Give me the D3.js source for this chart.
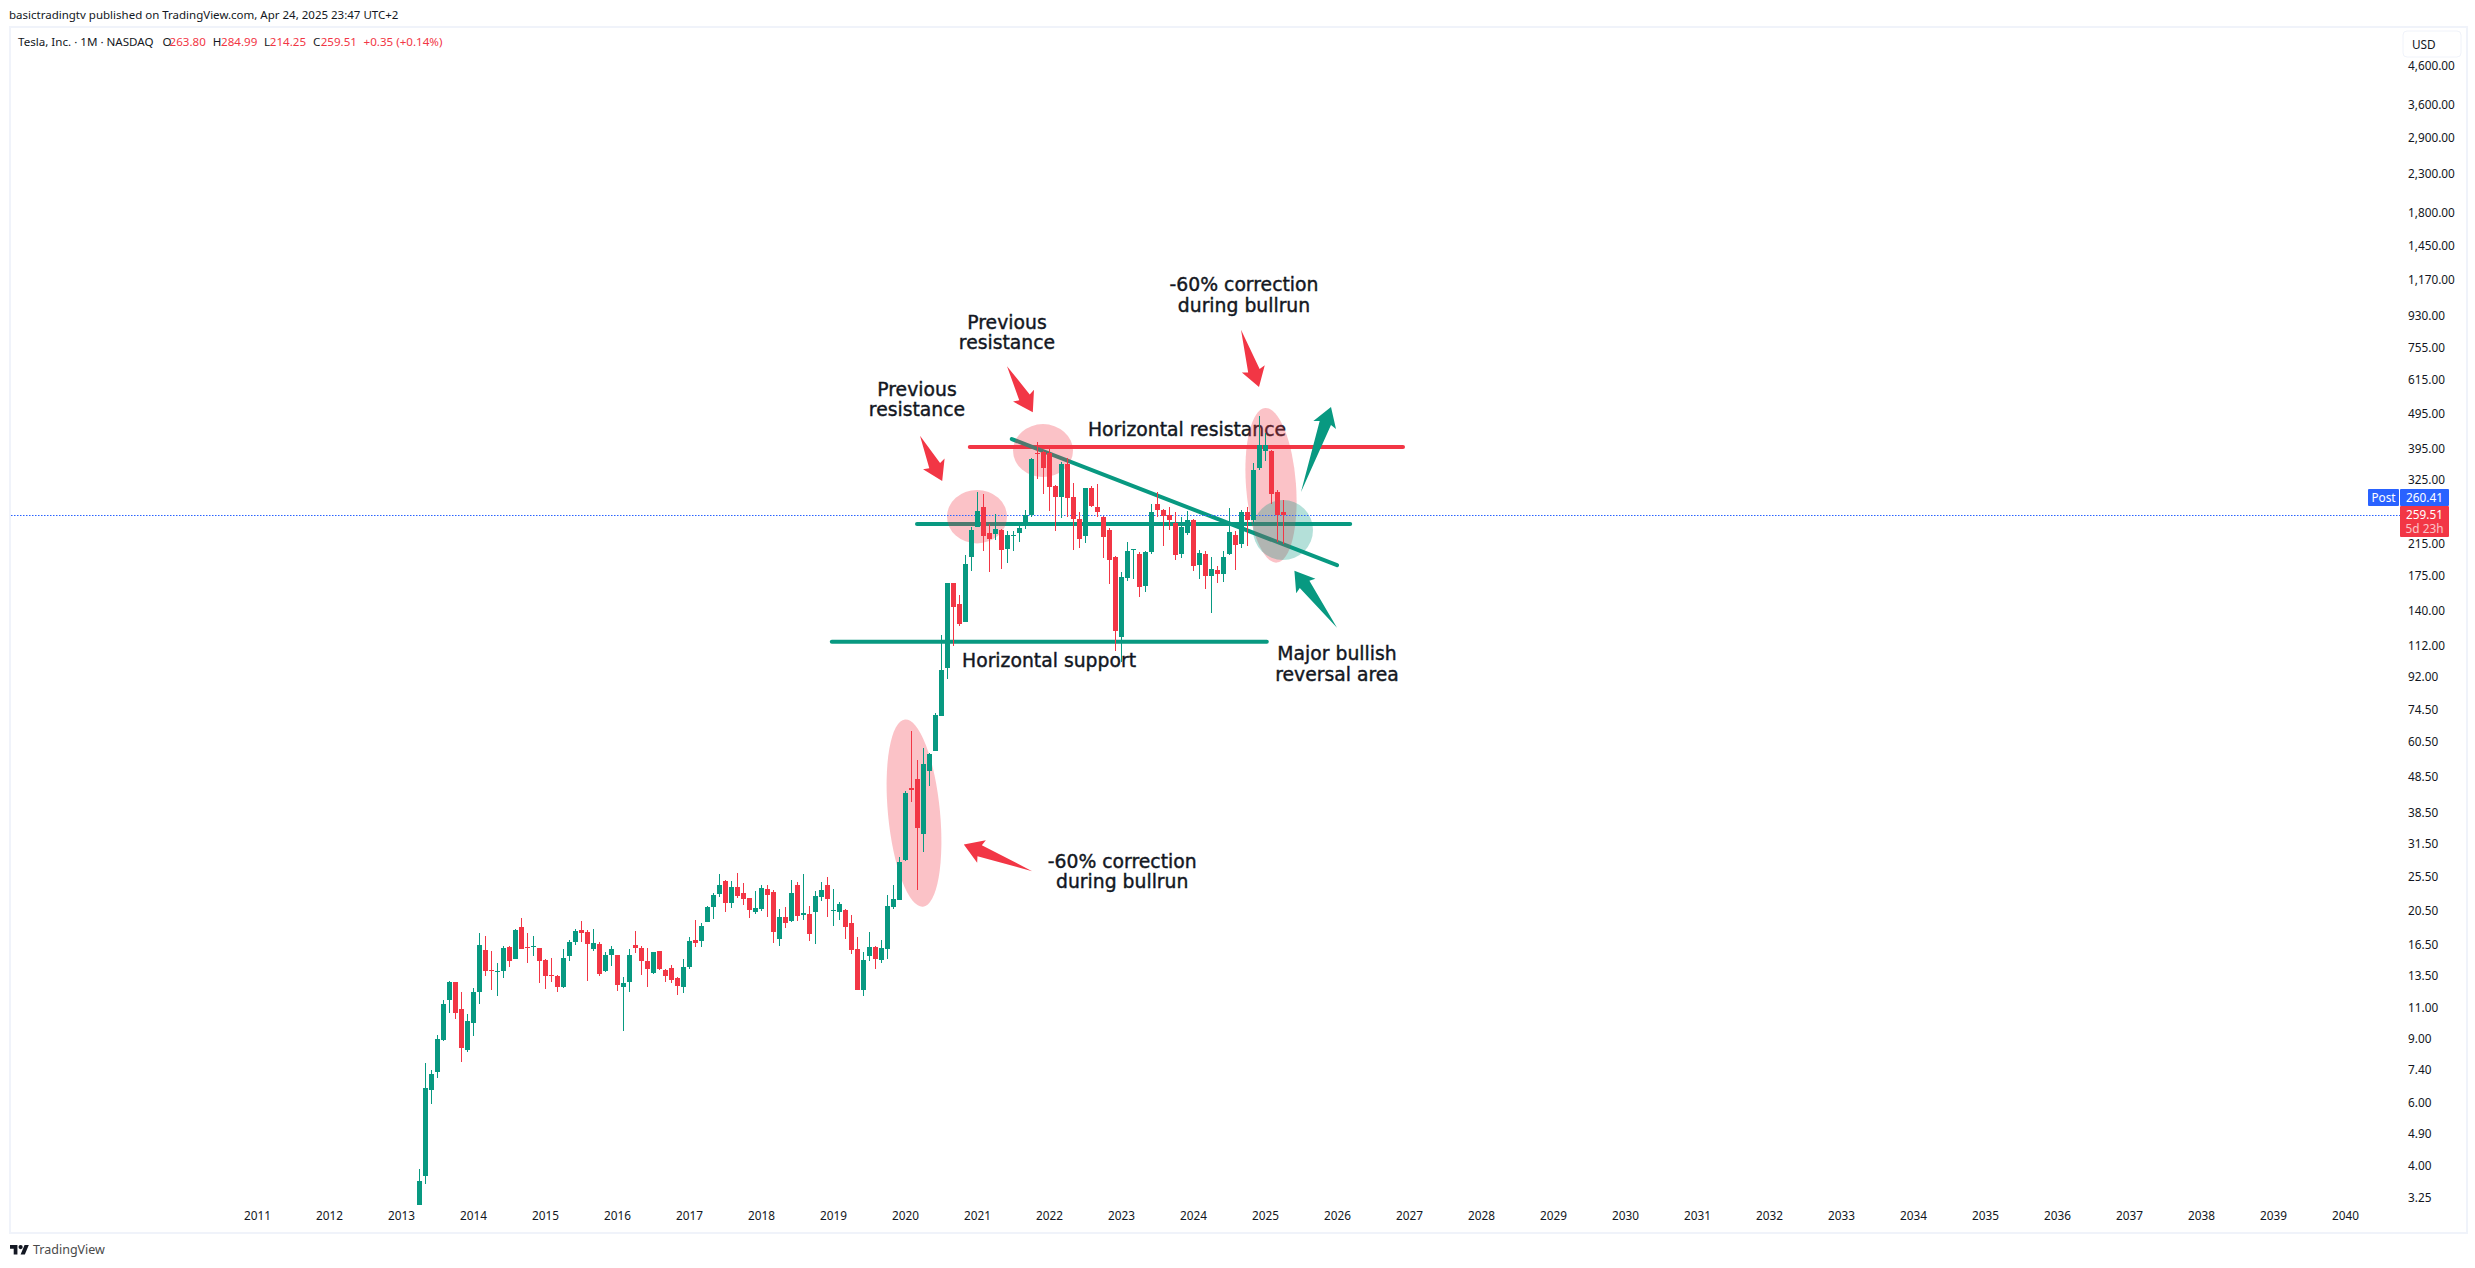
<!DOCTYPE html>
<html>
<head>
<meta charset="utf-8">
<script src="https://cdn.jsdelivr.net/npm/d3@7"></script>
<style>
  html, body { margin: 0; padding: 0; background: #fff; overflow: hidden; }
  text { font-family: "Noto Sans", sans-serif; fill: #131722; }
  .note { font-family: "DejaVu Sans", sans-serif; font-size: 18.8px; text-anchor: middle; dominant-baseline: middle; fill: #131722; stroke: #131722; stroke-width: 0.4px; }
</style>
</head>
<body>
<div id="chart"></div>
<script>
// monthly candles, first one is Apr 2013
const firstMonth = 3; // months after Jan 2013

const opens = [
  2.9, 3.74, 6.5, 7.29, 9.0, 11.56, 12.98, 10.9, 8.39,
  9.97, 12.17, 15.94, 14.02, 13.85, 13.85, 16.25, 15.05, 18.5, 16.25, 16.25, 16.1,
  14.95, 13.6, 13.5, 12.57, 15.3, 16.75, 18.12, 17.9, 16.05, 16.6, 13.93, 15.4,
  15.4, 12.57, 12.98, 16.4, 16.1, 14.85, 13.7, 15.8, 14.02, 14.2, 13.3, 12.57,
  14.3, 16.99, 16.87, 19.1, 21.0, 22.9, 24.8, 21.5, 23.85, 22.9, 22.25, 20.3,
  20.7, 23.55, 23.05, 17.1, 19.7, 19.1, 24.2, 19.9, 20.0, 20.3, 22.4, 24.2,
  20.45, 20.3, 20.6, 18.9, 16.05, 12.33, 15.3, 16.25, 14.95, 16.05, 21.0, 21.96,
  28.3, 45.0, 47.7, 33.6, 50.2, 57.0, 71.6, 96.6, 167, 146.7, 130.7, 198,
  239, 272, 230, 228, 235.4, 208, 227, 231, 243, 258.6, 384, 388,
  385, 312, 290, 360, 291, 253, 225, 307, 272, 255.6, 235.4, 198,
  118, 172, 206.5, 201, 163.7, 203, 277, 267.6, 258, 246, 202, 231,
  251, 188, 201, 175, 182, 177, 201, 228, 214, 263, 251, 350,
  389, 389, 300, 263.8
];
const highs = [
  3.92, 7.72, 7.38, 9.24, 11.56, 13.07, 13.0, 12.17, 10.57,
  12.5, 17.8, 17.4, 15.8, 14.65, 16.35, 16.35, 18.25, 19.6, 17.8, 17.4, 16.1,
  15.0, 15.15, 13.6, 16.05, 16.99, 18.25, 19.2, 18.12, 18.25, 16.75, 15.7, 16.35,
  15.45, 13.4, 16.05, 18.0, 16.35, 16.1, 15.75, 15.85, 14.1, 14.5, 13.4, 15.05,
  17.3, 19.32, 18.9, 21.1, 22.9, 25.9, 24.9, 24.8, 26.1, 24.4, 22.3, 23.25,
  24.2, 24.2, 23.4, 20.7, 21.0, 24.97, 24.6, 25.9, 21.1, 23.25, 24.7, 25.4,
  23.55, 21.65, 20.7, 19.9, 17.3, 15.7, 17.9, 16.35, 16.99, 22.7, 24.2, 29.0,
  44, 65, 53.9, 58.2, 56.3, 72.8, 119.9, 167.5, 167.5, 155, 200, 240,
  300, 297, 245, 261, 236, 234, 234, 246, 267.6, 372, 414, 391,
  395, 314, 364, 372, 318, 264, 307, 311, 315, 257, 238, 198.5,
  180, 218, 207.5, 204, 205, 278, 299, 269, 273, 263, 255, 266,
  252, 207, 206, 198, 187, 205, 271, 234, 267, 273, 361, 488,
  439, 392, 304, 284.99
];
const lows = [
  2.8, 3.55, 5.94, 7.02, 8.9, 10.65, 10.24, 7.75, 8.28,
  9.2, 11.3, 13.5, 12.33, 11.85, 13.3, 14.3, 15.0, 16.05, 14.65, 15.3, 12.9,
  12.4, 12.98, 12.17, 12.5, 14.8, 16.4, 16.75, 13.07, 15.8, 13.5, 13.85, 14.4,
  12.25, 9.48, 12.17, 15.6, 13.6, 12.57, 13.65, 14.0, 12.98, 12.9, 11.95, 12.1,
  14.1, 16.25, 16.25, 19.05, 19.45, 22.4, 20.3, 20.85, 22.3, 21.3, 19.6, 20.05,
  20.45, 19.7, 16.7, 16.35, 18.35, 19.05, 19.2, 19.32, 16.85, 16.6, 21.8, 19.7,
  18.6, 19.32, 17.1, 15.5, 12.3, 11.85, 14.85, 14.1, 14.65, 15.05, 20.7, 21.9,
  28.2, 41, 23.4, 29.9, 45.7, 57, 71.5, 90.5, 111.8, 127, 130, 181,
  239, 206, 180, 220, 183, 190, 205, 217, 237, 256, 326, 297,
  265, 234, 254, 256, 207, 209, 216, 272, 256, 197, 166, 108,
  101, 170, 172, 153, 158, 202, 255, 212, 235, 194, 197, 228,
  181, 172, 161, 138, 167, 168, 200, 182, 210, 212, 243, 345,
  366, 277, 217, 214.25
];
const closes = [
  3.63, 6.58, 7.2, 9.0, 11.3, 12.98, 10.65, 8.5, 10.1,
  12.17, 16.4, 13.93, 13.93, 13.93, 16.1, 14.85, 18.12, 16.1, 16.1, 16.35, 14.85,
  13.5, 13.5, 12.57, 15.15, 16.75, 18.0, 17.8, 16.6, 16.7, 13.7, 15.4, 16.05,
  12.74, 12.9, 15.4, 16.05, 14.85, 14.1, 15.7, 14.1, 13.5, 13.15, 12.65, 14.3,
  16.87, 16.7, 18.6, 21.0, 22.7, 24.2, 21.5, 23.85, 22.5, 22.1, 20.6, 20.85,
  23.7, 22.7, 17.8, 19.7, 18.9, 22.9, 19.9, 20.2, 17.65, 22.5, 23.4, 22.1,
  20.6, 21.4, 18.5, 15.94, 12.33, 14.95, 16.25, 15.05, 16.1, 21.1, 22.1, 28.0,
  43.6, 44.5, 34.8, 52.6, 56, 72, 96, 167, 143, 129, 189.5, 235.4,
  265, 225.5, 222, 236, 207, 227, 228, 238, 258.6, 371, 382, 350,
  310, 290, 358, 290, 253, 223, 307, 273.6, 263, 225, 194, 123,
  173.7, 205, 207.5, 163, 204, 263, 266.6, 258, 250.6, 200, 240, 250.6,
  187, 203, 175, 183, 177, 198, 232, 214, 263, 250.6, 346, 405,
  405, 295, 259, 259.51
];

const yearLabels = [2011, 2012, 2013, 2014, 2015, 2016, 2017, 2018, 2019, 2020, 2021, 2022, 2023, 2024, 2025,
  2026, 2027, 2028, 2029, 2030, 2031, 2032, 2033, 2034, 2035, 2036, 2037, 2038, 2039, 2040];
const priceTicks = [4600, 3600, 2900, 2300, 1800, 1450, 1170, 930, 755, 615, 495, 395, 325, 215, 175, 140,
  112, 92, 74.5, 60.5, 48.5, 38.5, 31.5, 25.5, 20.5, 16.5, 13.5, 11, 9, 7.4, 6, 4.9, 4, 3.25];

// drawings, as [month after Jan 2013, price]
const levelLines = [
  { from: [94.8, 400], to: [167, 400], color: "#F23645" },
  { from: [86, 244.4], to: [158.2, 244.4], color: "#089981" },
  { from: [71.8, 114.8], to: [144.3, 114.8], color: "#089981" },
  { from: [101.8, 421], to: [156, 187.6], color: "#089981" }
];
const arrows = [
  { tail: [105.2, 26.4], tip: [93.8, 31.3], color: "#F23645" },
  { tail: [86.5, 430], tip: [90.2, 322], color: "#F23645" },
  { tail: [101, 672], tip: [105.3, 500], color: "#F23645" },
  { tail: [140, 849], tip: [143, 588], color: "#F23645" },
  { tail: [150, 300], tip: [155, 517], color: "#089981" },
  { tail: [156, 125.7], tip: [148.9, 181], color: "#089981" }
];
const ovals = [
  { at: [85.5, 38.3], rx: 26, ry: 94, tilt: -5.5, color: "rgba(242,54,69,0.3)" },
  { at: [145, 313], rx: 25, ry: 77.5, tilt: -4.3, color: "rgba(242,54,69,0.3)" },
  { at: [96, 256], rx: 30, ry: 26.7, tilt: 0, color: "rgba(242,54,69,0.3)" },
  { at: [107, 391], rx: 30, ry: 26.5, tilt: 0, color: "rgba(242,54,69,0.3)" },
  { at: [147, 235], rx: 30, ry: 30, tilt: 0, color: "rgba(8,153,129,0.3)" }
];
const notes = [
  { at: [101, 886], lines: ["Previous", "resistance"] },
  { at: [86, 578], lines: ["Previous", "resistance"] },
  { at: [140.5, 1127], lines: ["-60% correction", "during bullrun"] },
  { at: [131, 445], lines: ["Horizontal resistance"] },
  { at: [108, 101.8], lines: ["Horizontal support"] },
  { at: [156, 106], lines: ["Major bullish", "reversal area"] },
  { at: [120.2, 28], lines: ["-60% correction", "during bullrun"] }
];

const lastPrice = 259.51;
const postPrice = 260.41;

const green = "#089981", red = "#F23645", blue = "#2962FF", frame = "#F0F3FA";

const width = 2475, height = 1268;
const svg = d3.select("#chart").append("svg")
  .attr("width", width).attr("height", height)
  .style("display", "block");

const x = d3.scaleLinear().domain([0, 324]).range([401, 2345]);
const y = d3.scaleLog().domain([4600, 3.25]).range([66, 1198]);

svg.append("defs").append("clipPath").attr("id", "pane")
  .append("rect").attr("x", 11).attr("y", 28).attr("width", 2389).attr("height", 1177);

// outer frame
svg.append("rect").attr("x", 10).attr("y", 27).attr("width", 2457).attr("height", 1206)
  .attr("fill", "none").attr("stroke", frame).attr("stroke-width", 2);

// header and footer
svg.append("text").attr("x", 9).attr("y", 19).style("font-size", "11.5px")
  .text("basictradingtv published on TradingView.com, Apr 24, 2025 23:47 UTC+2");

const legend = svg.append("g").attr("transform", "translate(0,46)").style("font-size", "11.6px");
legend.append("text").attr("x", 18).text("Tesla, Inc. · 1M · NASDAQ");
[["O", 162.6, "263.80", 169.5], ["H", 212.8, "284.99", 221], ["L", 264, "214.25", 269.8], ["C", 313, "259.51", 320.7]]
  .forEach(d => {
    legend.append("text").attr("x", d[1]).text(d[0]);
    legend.append("text").attr("x", d[3]).style("fill", red).text(d[2]);
  });
legend.append("text").attr("x", 363.6).style("fill", red).text("+0.35 (+0.14%)");

const logo = svg.append("g").attr("transform", "translate(10,1245) scale(0.53,0.53)").attr("fill", "#131722");
logo.append("path").attr("d", "M14 18H7V7H0V0h14v18zM28 18h-8l7.5-18h8L28 18z");
logo.append("circle").attr("cx", 20).attr("cy", 4).attr("r", 4);
svg.append("text").attr("x", 33).attr("y", 1254).style("font-size", "12.5px").style("fill", "#4a4a4a").text("TradingView");

// axes
const xAxis = d3.axisBottom(x)
  .tickValues(yearLabels.map(d => (d - 2013) * 12))
  .tickFormat(d => 2013 + d / 12)
  .tickSize(0);
svg.append("g").attr("transform", "translate(0,1209)").call(xAxis)
  .call(g => g.select(".domain").remove())
  .selectAll("text").style("font-size", "11.8px").style("fill", "#131722");

const yAxis = d3.axisRight(y)
  .tickValues(priceTicks)
  .tickFormat(d3.format(",.2f"))
  .tickSize(0);
svg.append("g").attr("transform", "translate(2405,0)").call(yAxis)
  .call(g => g.select(".domain").remove())
  .selectAll("text").style("font-size", "11.8px").style("fill", "#131722");

svg.selectAll(".tick text").attr("font-family", null).attr("font-size", null);

// usd box
svg.append("rect").attr("x", 2403).attr("y", 31).attr("width", 58).attr("height", 26).attr("rx", 4)
  .attr("fill", "#fff").attr("stroke", frame);
svg.append("text").attr("x", 2412).attr("y", 49).style("font-size", "11.8px").text("USD");

// drawings under the ovals
const drawings = svg.append("g").attr("clip-path", "url(#pane)");

drawings.selectAll(".level").data(levelLines).join("line")
  .attr("class", "level")
  .attr("x1", d => x(d.from[0])).attr("y1", d => y(d.from[1]))
  .attr("x2", d => x(d.to[0])).attr("y2", d => y(d.to[1]))
  .attr("stroke", d => d.color).attr("stroke-width", 4).attr("stroke-linecap", "round");

function arrowPath(d) {
  const x0 = x(d.tail[0]), y0 = y(d.tail[1]), x1 = x(d.tip[0]), y1 = y(d.tip[1]);
  const len = Math.hypot(x1 - x0, y1 - y0);
  const ux = (x1 - x0) / len, uy = (y1 - y0) / len;
  const head = 19, wing = 12, neck = 6;
  const px = (back, side) => [x1 - ux * back - uy * side, y1 - uy * back + ux * side];
  return d3.line()([[x0, y0], px(head - 2, neck), px(head, wing), [x1, y1], px(head, -wing), px(head - 2, -neck)]) + "Z";
}
drawings.selectAll(".arrow").data(arrows).join("path")
  .attr("class", "arrow")
  .attr("d", arrowPath)
  .attr("fill", d => d.color);

const noteText = drawings.selectAll(".note").data(notes).join("text")
  .attr("class", "note")
  .attr("transform", d => `translate(${x(d.at[0])},${y(d.at[1])})`);
noteText.selectAll("tspan").data(d => d.lines).join("tspan")
  .attr("x", 0).attr("dy", (d, i) => i ? 20.5 : 0)
  .text(d => d);

drawings.selectAll(".oval").data(ovals).join("ellipse")
  .attr("class", "oval")
  .attr("transform", d => `translate(${x(d.at[0])},${y(d.at[1])}) rotate(${d.tilt})`)
  .attr("rx", d => d.rx).attr("ry", d => d.ry)
  .attr("fill", d => d.color);

// last price line
const lastY = Math.round(y(lastPrice)) + 0.5;
svg.append("line")
  .attr("x1", 11).attr("x2", 2400).attr("y1", lastY).attr("y2", lastY)
  .attr("stroke", blue).attr("stroke-width", 1).attr("stroke-dasharray", "1.5 1.5");

// candles, snapped to whole pixels so they stay sharp
const candles = opens.map((o, i) => ({ month: firstMonth + i, o: o, h: highs[i], l: lows[i], c: closes[i] }));
const candleG = svg.append("g").attr("clip-path", "url(#pane)").attr("shape-rendering", "crispEdges");
const colorOf = d => d.c >= d.o ? green : red;

candleG.selectAll(".wick").data(candles).join("rect")
  .attr("class", "wick")
  .attr("x", d => Math.round(x(d.month))).attr("width", 1)
  .attr("y", d => Math.round(y(d.h)))
  .attr("height", d => Math.round(y(d.l)) - Math.round(y(d.h)))
  .attr("fill", colorOf);

candleG.selectAll(".body").data(candles).join("rect")
  .attr("class", "body")
  .attr("x", d => Math.round(x(d.month)) - 2).attr("width", 5)
  .attr("y", d => Math.round(y(Math.max(d.o, d.c))))
  .attr("height", d => Math.max(1, Math.round(Math.abs(y(d.o) - y(d.c)))))
  .attr("fill", colorOf);

// price labels
svg.append("rect").attr("x", 2368).attr("y", 489).attr("width", 31).attr("height", 17).attr("rx", 1).attr("fill", blue);
svg.append("text").attr("x", 2383.5).attr("y", 502).attr("text-anchor", "middle").style("font-size", "11.8px").style("fill", "#fff").text("Post");
svg.append("rect").attr("x", 2400).attr("y", 489).attr("width", 49).attr("height", 17).attr("rx", 1).attr("fill", blue);
svg.append("text").attr("x", 2424.5).attr("y", 502).attr("text-anchor", "middle").style("font-size", "11.8px").style("fill", "#fff").text(postPrice.toFixed(2));
svg.append("rect").attr("x", 2400).attr("y", 506).attr("width", 49).attr("height", 31).attr("rx", 1).attr("fill", red);
svg.append("text").attr("x", 2424.5).attr("y", 519).attr("text-anchor", "middle").style("font-size", "11.8px").style("fill", "#fff").text(lastPrice.toFixed(2));
svg.append("text").attr("x", 2424.5).attr("y", 533).attr("text-anchor", "middle").style("font-size", "11.8px").style("fill", "#fff").style("opacity", 0.7).text("5d 23h");
</script>
</body>
</html>
